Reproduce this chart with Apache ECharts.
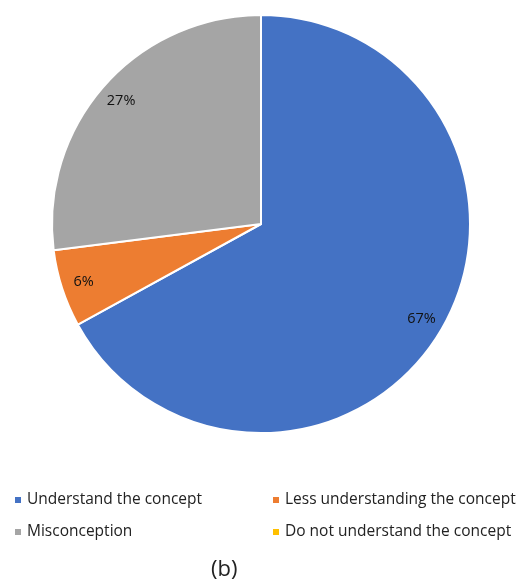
<!DOCTYPE html>
<html>
<head>
<meta charset="utf-8">
<script src="https://cdn.jsdelivr.net/npm/echarts@6/dist/echarts.min.js"></script>
<style>
  html, body { margin: 0; padding: 0; background: #fff; }
  #chart { width: 518px; height: 585px; }
</style>
</head>
<body>
<div id="chart"></div>
<script>
var categories = ['Understand the concept', 'Less understanding the concept', 'Misconception', 'Do not understand the concept'];
var values = [67, 6, 27, 0];
var colors = ['#4472C4', '#ED7D31', '#A5A5A5', '#FFC000'];

var myChart = echarts.init(document.getElementById('chart'));

var pieData = categories.map(function (name, i) {
  return { name: name, value: values[i], itemStyle: { color: colors[i] } };
});

// second ring only carries the labels, placed near the rim like Excel does
var labelData = categories.map(function (name, i) {
  return {
    name: name,
    value: values[i],
    label: { show: values[i] > 0 }
  };
});

var fontFam = '"Open Sans", Lato, sans-serif';

option = {
  animation: false,
  legend: [
    {
      data: [categories[0], categories[2]],
      orient: 'vertical',
      left: 8,
      top: 486,
      itemWidth: 8,
      itemHeight: 8,
      itemGap: 14,
      icon: 'rect',
      textStyle: { fontFamily: fontFam, fontSize: 15.5, color: '#222', lineHeight: 18 }
    },
    {
      data: [categories[1], categories[3]],
      orient: 'vertical',
      left: 266,
      top: 486,
      itemWidth: 8,
      itemHeight: 8,
      itemGap: 14,
      icon: 'rect',
      textStyle: { fontFamily: fontFam, fontSize: 15.5, color: '#222', lineHeight: 18 }
    }
  ],
  graphic: [{
    type: 'text',
    left: 211,
    top: 559,
    style: { text: '(b)', font: '22px ' + fontFam, fill: '#222' }
  }],
  series: [
    {
      type: 'pie',
      center: [261, 224],
      radius: [0, 209],
      startAngle: 90,
      clockwise: true,
      data: pieData,
      label: { show: false },
      labelLine: { show: false },
      itemStyle: { borderColor: '#fff', borderWidth: 2 },
      emphasis: { disabled: true }
    },
    {
      type: 'pie',
      center: [261, 224],
      radius: [158, 209],
      startAngle: 90,
      clockwise: true,
      silent: true,
      data: labelData,
      itemStyle: { color: 'transparent' },
      label: {
        position: 'inside',
        formatter: function (p) { return p.value + '%'; },
        fontFamily: fontFam,
        fontSize: 14.5,
        color: '#111'
      },
      labelLine: { show: false },
      emphasis: { disabled: true }
    }
  ]
};
myChart.setOption(option);
</script>
</body>
</html>
